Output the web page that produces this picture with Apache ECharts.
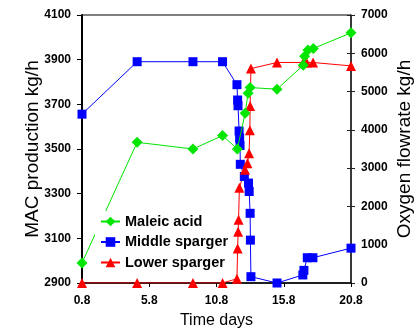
<!DOCTYPE html>
<html>
<head>
<meta charset="utf-8">
<script src="https://cdn.jsdelivr.net/npm/echarts@6/dist/echarts.min.js"></script>
<style>
html,body{margin:0;padding:0;background:#fff;}
#c{width:419px;height:330px;}
</style>
</head>
<body>
<div id="c"></div>
<script>
// Maleic acid (left axis, kg/h)
const maleicX = [0.8, 4.9, 9.05, 11.25, 12.35, 12.93, 13.15, 13.3, 15.3, 17.25, 17.35, 17.6, 18.0, 20.8];
const maleicY = [2990, 3530, 3500, 3560, 3500, 3660, 3750, 3775, 3768, 3875, 3915, 3943, 3950, 4020];
// Middle sparger (right axis, kg/h)
const middleX = [0.8, 4.9, 9.05, 11.25, 12.32, 12.37, 12.4, 12.48, 12.52, 12.55, 12.57, 12.87, 13.18, 13.23, 13.3, 13.32, 13.36, 15.3, 17.22, 17.3, 17.55, 17.97, 20.8];
const middleY = [4410, 5780, 5780, 5780, 5180, 4780, 4630, 3970, 3790, 3590, 3100, 2780, 2610, 2390, 1820, 1120, 165, 0, 210, 330, 660, 660, 910];
// Lower sparger (right axis, kg/h)
const lowerX = [0.8, 4.9, 9.05, 11.25, 12.32, 12.37, 12.41, 12.44, 12.5, 12.92, 13.1, 13.22, 13.28, 13.3, 13.36, 15.3, 17.25, 17.5, 17.98, 20.8];
const lowerY = [0, 0, 0, 0, 110, 900, 1340, 1650, 2490, 2960, 3130, 3390, 3990, 4620, 5600, 5760, 5760, 5760, 5760, 5670];
// Axis ticks
const xTicks = {min: 0.8, max: 20.8, step: 5};
const leftTicks = {min: 2900, max: 4100, step: 200};
const rightTicks = {min: 0, max: 7000, step: 1000};
const seriesNames = ['Maleic acid', 'Middle sparger', 'Lower sparger'];

const zip = (xs, ys) => xs.map((x, i) => [x, ys[i]]);
const FONT = "'Liberation Sans', Arial, sans-serif";
const tickLbl = {fontFamily: FONT, fontSize: 12, fontWeight: 'bold', color: '#000'};

const chart = echarts.init(document.getElementById('c'), null, {renderer: 'canvas'});
chart.setOption({
  animation: false,
  backgroundColor: '#fff',
  grid: {left: 82, right: 68, top: 15, bottom: 47, show: true, borderColor: '#000', borderWidth: 1,
         containLabel: false, outerBoundsMode: 'none'},
  legend: {
    orient: 'vertical', left: 95, top: 211, padding: [3, 5, 3, 5],
    backgroundColor: '#fff', itemWidth: 19, itemHeight: 12, itemGap: 5.5,
    data: seriesNames,
    textStyle: {fontFamily: FONT, fontSize: 14.5, fontWeight: 'bold', color: '#000'}
  },
  xAxis: {
    type: 'value', min: xTicks.min, max: xTicks.max, interval: xTicks.step,
    name: 'Time days', nameLocation: 'middle', nameGap: 30, nameMoveOverlap: false,
    nameTextStyle: {fontFamily: FONT, fontSize: 16, color: '#000'},
    axisLine: {lineStyle: {color: '#000', width: 1.5}},
    axisTick: {length: 4, lineStyle: {color: '#000'}},
    axisLabel: Object.assign({margin: 12, formatter: v => v.toFixed(1)}, tickLbl),
    splitLine: {show: false}
  },
  yAxis: [
    {
      type: 'value', position: 'left', min: leftTicks.min, max: leftTicks.max, interval: leftTicks.step,
      name: 'MAC production kg/h', nameLocation: 'middle', nameGap: 40, nameRotate: 90, nameMoveOverlap: false,
      nameTextStyle: {fontFamily: FONT, fontSize: 19, color: '#000'},
      axisLine: {show: true, lineStyle: {color: '#000', width: 2}},
      axisTick: {length: 5, lineStyle: {color: '#000'}},
      axisLabel: Object.assign({margin: 11, formatter: v => String(v)}, tickLbl),
      splitLine: {show: false}
    },
    {
      type: 'value', position: 'right', min: rightTicks.min, max: rightTicks.max, interval: rightTicks.step,
      name: 'Oxygen flowrate kg/h', nameLocation: 'middle', nameGap: 44, nameRotate: 90, nameMoveOverlap: false,
      nameTextStyle: {fontFamily: FONT, fontSize: 19, color: '#000'},
      axisLine: {show: true, lineStyle: {color: '#222', width: 1.5}},
      axisTick: {length: 4, lineStyle: {color: '#222'}},
      axisLabel: Object.assign({margin: 10, formatter: v => String(v)}, tickLbl),
      splitLine: {show: false}
    },
    {
      type: 'value', position: 'right', min: rightTicks.min, max: rightTicks.max, interval: rightTicks.step,
      axisLine: {show: false},
      axisTick: {show: true, inside: true, length: 4, lineStyle: {color: '#222'}},
      axisLabel: {show: false},
      splitLine: {show: false}
    }
  ],
  series: [
    {
      name: seriesNames[0], type: 'line', yAxisIndex: 0, data: zip(maleicX, maleicY),
      symbol: 'diamond', symbolSize: 11, color: '#00e600',
      lineStyle: {width: 1, color: '#00e600'}, itemStyle: {color: '#00e600'}, z: 3
    },
    {
      name: seriesNames[1], type: 'line', yAxisIndex: 1, data: zip(middleX, middleY),
      symbol: 'rect', symbolSize: 9, color: '#0000ff',
      lineStyle: {width: 1, color: '#0000ff'}, itemStyle: {color: '#0000ff'}, z: 2
    },
    {
      name: seriesNames[2], type: 'line', yAxisIndex: 1, data: zip(lowerX, lowerY),
      symbol: 'triangle', symbolSize: 10, color: '#ff0000',
      lineStyle: {width: 1, color: '#ff0000'}, itemStyle: {color: '#ff0000'}, z: 2
    }
  ]
});
</script>
</body>
</html>
